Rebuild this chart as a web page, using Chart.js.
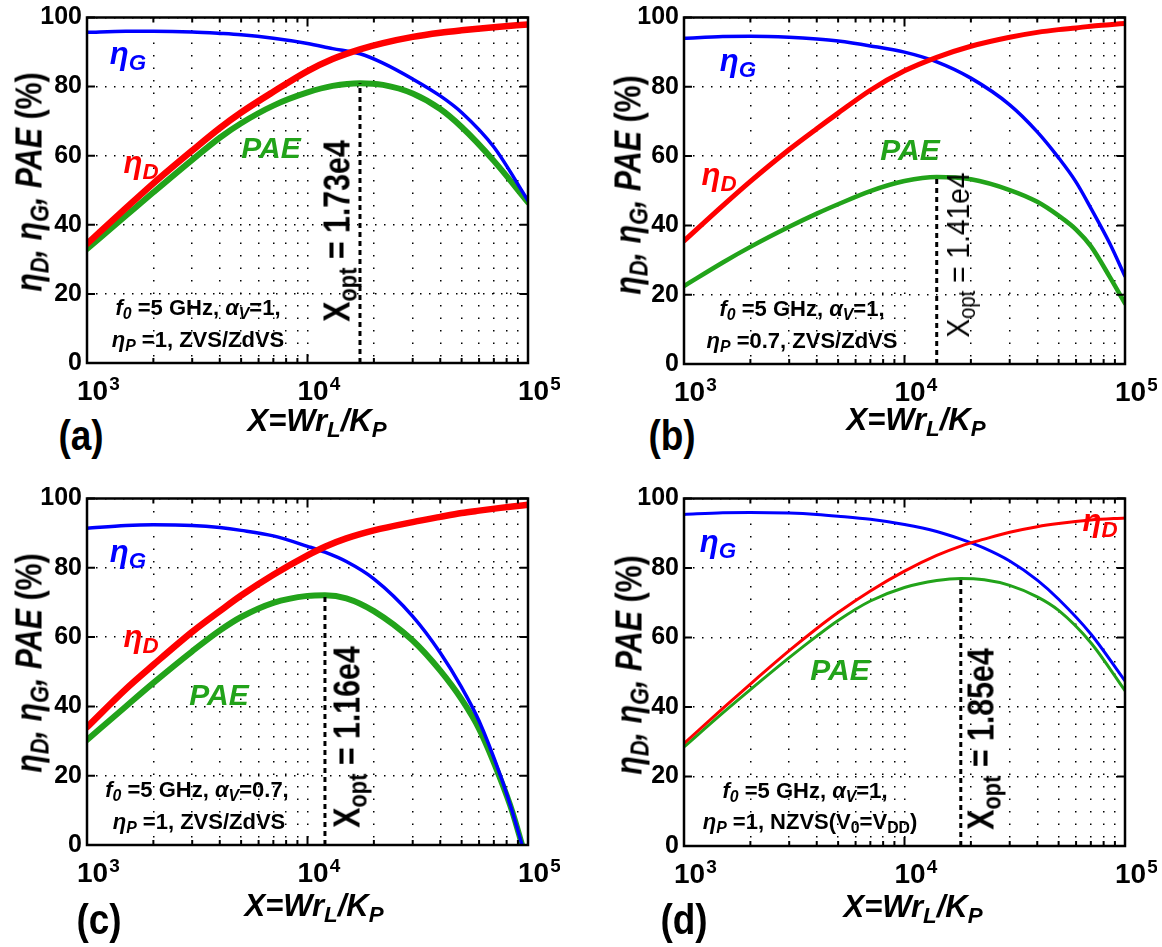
<!DOCTYPE html>
<html>
<head>
<meta charset="utf-8">
<script src="https://cdn.jsdelivr.net/npm/chart.js@4.4.0/dist/chart.umd.min.js"></script>
<style>
  body { margin: 0; background: #fff; }
  #fig { position: relative; width: 1162px; height: 947px; overflow: hidden; }
  canvas { position: absolute; }
  .t { position: absolute; font-family: 'Liberation Sans Narrow', 'Arial Narrow', 'Liberation Sans', sans-serif;
       font-weight: bold; white-space: nowrap; line-height: 1; color: #000; }
  .t i { font-style: italic; }
  .t sub { font-size: 72%; vertical-align: -0.28em; line-height: 0; }
</style>
</head>
<body>
<div id="fig">
  <canvas id="chartA" width="560" height="407" style="left:0px;top:0px"></canvas>
  <canvas id="chartB" width="560" height="408" style="left:597px;top:0px"></canvas>
  <canvas id="chartC" width="560" height="408" style="left:0px;top:481px"></canvas>
  <canvas id="chartD" width="560" height="409" style="left:597px;top:481px"></canvas>
</div>
<script>
// ticks
const xTicks = [1000, 2000, 3000, 4000, 5000, 6000, 7000, 8000, 9000,
                10000, 20000, 30000, 40000, 50000, 60000, 70000, 80000, 90000, 100000];
const decades = [1000, 10000, 100000];
const yTicks = [0, 20, 40, 60, 80, 100];

// (a) f0=5 GHz, aV=1, etaP=1, ZVS/ZdVS
const xA = [1000, 1500, 2000, 3000, 4000, 5000, 7000, 10000, 13000, 17300, 22000, 30000, 40000, 50000, 70000, 100000];
const etaGA = [95.7, 96, 96, 95.8, 95.4, 95, 94, 92.5, 91, 89.5, 86.8, 82.2, 77.3, 72.5, 62.5, 47];
const etaDA = [34.5, 44.8, 52, 61.5, 68, 72.5, 78.5, 84.5, 88, 90.8, 92.6, 94.4, 95.6, 96.3, 97.2, 98];
const paeA = [33, 42.6, 49.4, 58.8, 65.2, 69.4, 74.5, 78.3, 80.2, 81, 80.5, 78, 73.5, 68.3, 58.5, 46.5];
const xOptA = 17300, paeOptA = 81;

// (b) etaP=0.7
const xB = [1000, 1500, 2000, 3000, 4000, 5000, 7000, 10000, 14000, 20000, 30000, 40000, 50000, 60000, 70000, 85000, 100000];
const etaGB = [94, 94.5, 94.6, 94.3, 93.8, 93.2, 91.8, 90, 87.2, 82.5, 74.8, 67, 59.5, 52.5, 45, 35, 25.3];
const etaDB = [35.5, 45.7, 52.7, 61.9, 67.9, 72.4, 79, 84.6, 88.5, 91.7, 94.3, 95.7, 96.5, 97, 97.5, 97.9, 98.3];
const paeB = [22.5, 29.3, 33.8, 39.6, 43.4, 46.1, 49.9, 52.8, 54, 53.3, 50.2, 46.8, 42.8, 38.8, 34, 25.3, 17.5];
const xOptB = 14000, paeOptB = 54;

// (c) aV=0.7
const xC = [1000, 1500, 2000, 3000, 4000, 5000, 7000, 10000, 12000, 15000, 20000, 30000, 40000, 50000, 60000, 75000, 85000, 94000, 100000];
const etaGC = [91.4, 92.2, 92.4, 92.2, 91.6, 90.8, 89.2, 86.2, 84.5, 81.8, 76.8, 66, 55.5, 45.5, 35.8, 20, 9.5, 0, null];
const etaDC = [34, 45, 52, 61.5, 67.5, 72, 78, 83.6, 86.1, 88.5, 90.8, 93.2, 94.7, 95.8, 96.5, 97.3, 97.7, 98, 98.2];
const paeC = [30.3, 40, 46.8, 55.9, 61.9, 65.8, 69.9, 71.9, 72.1, 71.2, 67.5, 59, 50.3, 42, 33.5, 19, 9.5, 0, null];
const xOptC = 12000, paeOptC = 72.1;

// (d) NZVS(V0=VDD)
const xD = [1000, 1500, 2000, 3000, 4000, 5000, 7000, 10000, 14000, 18000, 23000, 30000, 40000, 50000, 70000, 100000];
const etaGD = [95.4, 95.9, 96, 95.8, 95.4, 94.9, 94, 92.5, 90.5, 88.3, 85.7, 82, 76.5, 71, 61, 47.5];
const etaDD = [29.5, 39.6, 46.6, 56.2, 62.6, 67.2, 73.4, 79.1, 83.6, 86.3, 88.3, 90.3, 91.9, 92.8, 93.8, 94.4];
const paeD = [28.5, 38.3, 45, 54.2, 60.4, 64.9, 70.5, 74.4, 76.4, 77, 76.6, 75, 71.7, 67.8, 58.5, 44.7];
const xOptD = 18000, paeOptD = 77;

const FONT = "'Liberation Sans Narrow', 'Arial Narrow', 'Liberation Sans', sans-serif";
const BLUE = '#0000ff', RED = '#ff0000', GREEN = '#22a31a';

// box, inward ticks and 10^n labels
const frame = {
    id: 'frame',
    afterDatasetsDraw(chart) {
        const { ctx, chartArea: a, scales: { x, y } } = chart;
        ctx.save();
        ctx.strokeStyle = '#000';
        ctx.lineWidth = 2.5;
        ctx.strokeRect(a.left, a.top, a.right - a.left, a.bottom - a.top);
        ctx.lineWidth = 2;
        ctx.beginPath();
        x.ticks.forEach(t => {
            const px = x.getPixelForValue(t.value);
            const len = decades.includes(t.value) ? 9 : 5;
            ctx.moveTo(px, a.bottom); ctx.lineTo(px, a.bottom - len);
            ctx.moveTo(px, a.top); ctx.lineTo(px, a.top + len);
        });
        y.ticks.forEach(t => {
            const py = y.getPixelForValue(t.value);
            ctx.moveTo(a.left, py); ctx.lineTo(a.left + 8, py);
            ctx.moveTo(a.right, py); ctx.lineTo(a.right - 8, py);
        });
        ctx.stroke();

        ctx.fillStyle = '#000';
        ctx.textAlign = 'left';
        ctx.textBaseline = 'alphabetic';
        decades.forEach(v => {
            const px = x.getPixelForValue(v);
            ctx.font = 'bold 28px ' + FONT;
            ctx.fillText('10', px - 10, a.bottom + 37);
            const w = ctx.measureText('10').width;
            ctx.font = 'bold 19px ' + FONT;
            ctx.fillText(String(Math.round(Math.log10(v))), px - 10 + w + 1, a.bottom + 27);
        });
        ctx.restore();
    }
};

function line(xs, ys, color, width) {
    return {
        data: xs.map((v, i) => ({ x: v, y: ys[i] })),
        borderColor: color,
        borderWidth: width,
        borderJoinStyle: 'round',
        borderCapStyle: 'round',
        pointRadius: 0,
        cubicInterpolationMode: 'monotone',
        fill: false
    };
}

function makeChart(id, xs, etaG, etaD, pae, xOpt, paeOpt, widths) {
    const optLine = {
        data: [{ x: xOpt, y: 0 }, { x: xOpt, y: paeOpt }],
        borderColor: '#000',
        borderWidth: 3,
        borderDash: [5, 4],
        pointRadius: 0
    };
    return new Chart(document.getElementById(id), {
        type: 'line',
        data: {
            datasets: [
                optLine,
                line(xs, etaD, RED, widths[0]),
                line(xs, etaG, BLUE, widths[2]),
                line(xs, pae, GREEN, widths[1])
            ]
        },
        options: {
            responsive: false,
            animation: false,
            events: [],
            layout: { padding: { top: 16, right: 32, left: 0, bottom: 0 } },
            plugins: { legend: { display: false }, tooltip: { enabled: false } },
            scales: {
                x: {
                    type: 'logarithmic',
                    min: 1000,
                    max: 100000,
                    afterBuildTicks: s => { s.ticks = xTicks.map(v => ({ value: v })); },
                    afterFit: s => { s.height = 44; },
                    ticks: { display: false, autoSkip: false },
                    grid: { color: '#000', lineWidth: 1.5, drawTicks: false },
                    border: { display: false, dash: [1.5, 11] }
                },
                y: {
                    min: 0,
                    max: 100,
                    afterBuildTicks: s => { s.ticks = yTicks.map(v => ({ value: v })); },
                    afterFit: s => { s.width = 87; },
                    ticks: { padding: 5, color: '#000', font: { family: FONT, size: 25, weight: 'bold', lineHeight: 1 } },
                    grid: { color: '#000', lineWidth: 1.5, drawTicks: false },
                    border: { display: false, dash: [1.5, 7.5] }
                }
            }
        },
        plugins: [frame]
    });
}

makeChart('chartA', xA, etaGA, etaDA, paeA, xOptA, paeOptA, [6.5, 6, 3.5]);
makeChart('chartB', xB, etaGB, etaDB, paeB, xOptB, paeOptB, [5, 4.5, 3.5]);
makeChart('chartC', xC, etaGC, etaDC, paeC, xOptC, paeOptC, [6.5, 6, 3.5]);
makeChart('chartD', xD, etaGD, etaDD, paeD, xOptD, paeOptD, [3, 3, 3]);

// text overlays: [html, centre x, centre y, size, colour, rotated, weight, horizontal squeeze]
const yTitle = '<i>η<sub>D</sub>, η<sub>G</sub>, PAE</i> (%)';
const xTitle = '<i>X=Wr<sub>L</sub>/K<sub>P</sub></i>';
const texts = [
    // (a)
    ['<i>η<sub>G</sub></i>', 128, 53, 31, BLUE],
    ['<i>η<sub>D</sub></i>', 141, 162, 31, RED],
    ['<i>PAE</i>', 271, 148, 30, GREEN],
    ['X<sub>opt</sub> = 1.73e4', 337, 231, 37, '#000', true, 'bold', 0.82],
    ['<i>f<sub>0</sub></i> =5 GHz, <i>α<sub>V</sub></i>=1,', 198, 308, 22, '#000'],
    ['<i>η<sub>P</sub></i> =1, ZVS/ZdVS', 198, 340, 22, '#000'],
    [yTitle, 29, 182, 37, '#000', true, 'bold', 0.82],
    [xTitle, 317, 420, 31, '#000'],
    ['(a)', 81, 436, 42, '#000', false, 'bold', 0.88],
    // (b)
    ['<i>η<sub>G</sub></i>', 738, 60, 31, BLUE],
    ['<i>η<sub>D</sub></i>', 719, 174, 31, RED],
    ['<i>PAE</i>', 910, 150, 30, GREEN],
    ['X<sub>opt</sub> = 1.41e4', 958, 255, 32, '#000', true, 'normal', 0.88],
    ['<i>f<sub>0</sub></i> =5 GHz, <i>α<sub>V</sub></i>=1,', 802, 309, 22, '#000'],
    ['<i>η<sub>P</sub></i> =0.7, ZVS/ZdVS', 802, 341, 22, '#000'],
    [yTitle, 628, 185, 37, '#000', true, 'bold', 0.82],
    [xTitle, 916, 419, 31, '#000'],
    ['(b)', 672, 436, 42, '#000', false, 'bold', 0.88],
    // (c)
    ['<i>η<sub>G</sub></i>', 128, 551, 31, BLUE],
    ['<i>η<sub>D</sub></i>', 141, 636, 31, RED],
    ['<i>PAE</i>', 219, 695, 30, GREEN],
    ['X<sub>opt</sub> = 1.16e4', 347, 737, 37, '#000', true, 'bold', 0.82],
    ['<i>f<sub>0</sub></i> =5 GHz, <i>α<sub>V</sub></i>=0.7,', 197, 790, 22, '#000'],
    ['<i>η<sub>P</sub></i> =1, ZVS/ZdVS', 199, 822, 22, '#000'],
    [yTitle, 29, 663, 37, '#000', true, 'bold', 0.82],
    [xTitle, 314, 905, 31, '#000'],
    ['(c)', 99, 920, 42, '#000', false, 'bold', 0.88],
    // (d)
    ['<i>η<sub>G</sub></i>', 718, 541, 31, BLUE],
    ['<i>η<sub>D</sub></i>', 1100, 520, 31, RED],
    ['<i>PAE</i>', 840, 670, 30, GREEN],
    ['X<sub>opt</sub> = 1.85e4', 981, 739, 37, '#000', true, 'bold', 0.82],
    ['<i>f<sub>0</sub></i> =5 GHz, <i>α<sub>V</sub></i>=1,', 805, 791, 22, '#000'],
    ['<i>η<sub>P</sub></i> =1, NZVS(V<sub>0</sub>=V<sub>DD</sub>)', 810, 822, 22, '#000'],
    [yTitle, 629, 665, 37, '#000', true, 'bold', 0.82],
    [xTitle, 913, 906, 31, '#000'],
    ['(d)', 684, 920, 42, '#000', false, 'bold', 0.88]
];

const fig = document.getElementById('fig');
texts.forEach(([html, cx, cy, size, color, rot, weight, sx]) => {
    const el = document.createElement('div');
    el.className = 't';
    el.innerHTML = html;
    el.style.left = cx + 'px';
    el.style.top = cy + 'px';
    el.style.fontSize = size + 'px';
    el.style.color = color;
    if (weight) el.style.fontWeight = weight;
    el.style.transform = 'translate(-50%, -50%)' + (rot ? ' rotate(-90deg)' : '') + ' scaleX(' + (sx || 1) + ')';
    fig.appendChild(el);
});
</script>
</body>
</html>
